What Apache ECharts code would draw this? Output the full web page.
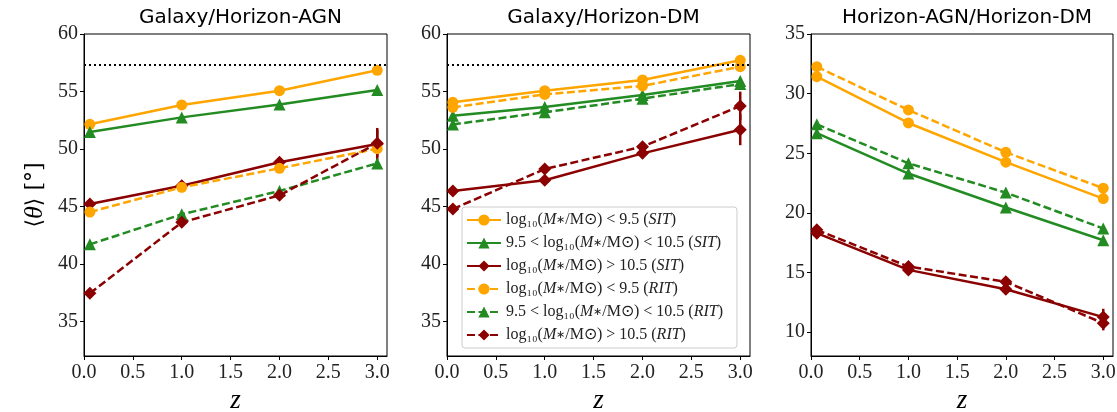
<!DOCTYPE html>
<html>
<head>
<meta charset="utf-8">
<script src="https://cdn.jsdelivr.net/npm/echarts@6/dist/echarts.min.js"></script>
<style>html,body{margin:0;padding:0;background:#fff;}#c{width:1117px;height:412px;}</style>
</head>
<body>
<div id="c"></div>
<script>
// ---- data ----
const zVals = [0.06, 1, 2, 3];
const panelTitles = ['Galaxy/Horizon-AGN', 'Galaxy/Horizon-DM', 'Horizon-AGN/Horizon-DM'];
const xTicks = [0, 0.5, 1, 1.5, 2, 2.5, 3];
const yTicksGal = [35, 40, 45, 50, 55, 60];
const yTicksHz = [10, 15, 20, 25, 30, 35];
const randomMean = 57.3;

// Galaxy / Horizon-AGN
const agnSitLow  = [52.15, 53.83, 55.07, 56.84];
const agnSitMid  = [51.48, 52.75, 53.86, 55.13];
const agnSitHigh = [45.22, 46.81, 48.84, 50.43];
const agnRitLow  = [44.52, 46.67, 48.32, 50.03];
const agnRitMid  = [41.71, 44.32, 46.35, 48.75];
const agnRitHigh = [37.45, 43.62, 45.97, 50.50];
const agnSitHighErr = [0.3, 0.3, 0.4, 1.4];
const agnRitHighErr = [0.4, 0.4, 0.4, 1.2];

// Galaxy / Horizon-DM
const dmSitLow  = [54.06, 55.07, 56.00, 57.71];
const dmSitMid  = [52.90, 53.65, 54.70, 55.91];
const dmSitHigh = [46.35, 47.28, 49.62, 51.68];
const dmRitLow  = [53.62, 54.75, 55.48, 57.16];
const dmRitMid  = [52.14, 53.19, 54.38, 55.65];
const dmRitHigh = [44.78, 48.26, 50.20, 53.74];
const dmSitHighErr = [0.3, 0.3, 0.4, 1.35];
const dmRitHighErr = [0.3, 0.4, 0.4, 1.25];

// Horizon-AGN / Horizon-DM
const hzSitLow  = [31.42, 27.54, 24.25, 21.20];
const hzSitMid  = [26.68, 23.30, 20.45, 17.71];
const hzSitHigh = [18.30, 15.22, 13.60, 11.26];
const hzRitLow  = [32.26, 28.63, 25.08, 22.07];
const hzRitMid  = [27.43, 24.16, 21.70, 18.69];
const hzRitHigh = [18.58, 15.50, 14.22, 10.75];
const hzSitHighErr = [0.2, 0.2, 0.3, 0.7];
const hzRitHighErr = [0.2, 0.2, 0.3, 0.6];

const seriesNames = [
  'low (SIT)', 'mid (SIT)', 'high (SIT)', 'low (RIT)', 'mid (RIT)', 'high (RIT)'
];
const legendRich = {
  'low (SIT)':  '{t|log₁₀(}{i|M}{s|∗}{t|/M⊙) < 9.5 (}{i|SIT}{t|)}',
  'mid (SIT)':  '{t|9.5 < log₁₀(}{i|M}{s|∗}{t|/M⊙) < 10.5 (}{i|SIT}{t|)}',
  'high (SIT)': '{t|log₁₀(}{i|M}{s|∗}{t|/M⊙) > 10.5 (}{i|SIT}{t|)}',
  'low (RIT)':  '{t|log₁₀(}{i|M}{s|∗}{t|/M⊙) < 9.5 (}{i|RIT}{t|)}',
  'mid (RIT)':  '{t|9.5 < log₁₀(}{i|M}{s|∗}{t|/M⊙) < 10.5 (}{i|RIT}{t|)}',
  'high (RIT)': '{t|log₁₀(}{i|M}{s|∗}{t|/M⊙) > 10.5 (}{i|RIT}{t|)}'
};

const panels = [
  { vals: [agnSitLow, agnSitMid, agnSitHigh, agnRitLow, agnRitMid, agnRitHigh], errs: {2: agnSitHighErr, 5: agnRitHighErr}, min: 32, max: 60, ticks: yTicksGal, ref: true },
  { vals: [dmSitLow, dmSitMid, dmSitHigh, dmRitLow, dmRitMid, dmRitHigh], errs: {2: dmSitHighErr, 5: dmRitHighErr}, min: 32, max: 60, ticks: yTicksGal, ref: true },
  { vals: [hzSitLow, hzSitMid, hzSitHigh, hzRitLow, hzRitMid, hzRitHigh], errs: {2: hzSitHighErr, 5: hzRitHighErr}, min: 8, max: 35, ticks: yTicksHz, ref: false }
];

// ---- styles ----
const colors = ['#FFA500', '#228B22', '#8B0000', '#FFA500', '#228B22', '#8B0000'];
const symbols = ['circle', 'triangle', 'diamond', 'circle', 'triangle', 'diamond'];
const symSizes = [11, 12, 13, 11, 12, 13];
const lineTypes = ['solid', 'solid', 'solid', [8, 3.5], [8, 3.5], [8, 3.5]];
const gridPos = [{left: 84, width: 303}, {left: 447, width: 303}, {left: 811, width: 302}];
const serif = 'Liberation Serif';

const grids = [], xAxes = [], yAxes = [], series = [], titles = [];
panels.forEach((p, pi) => {
  grids.push({ left: gridPos[pi].left, width: gridPos[pi].width, top: 34, height: 322,
    outerBoundsMode: 'none', containLabel: false,
    show: true, borderColor: '#000', borderWidth: 1, backgroundColor: 'transparent' });
  titles.push({ text: panelTitles[pi], left: gridPos[pi].left + gridPos[pi].width / 2, top: 3,
    textAlign: 'center',
    textStyle: { fontFamily: 'DejaVu Sans', fontWeight: 'normal', fontSize: 20, color: '#000' } });
  xAxes.push({ gridIndex: pi, type: 'value', min: 0, max: 3.1,
    name: 'z', nameLocation: 'middle', nameGap: 24,
    nameTextStyle: { fontFamily: serif, fontStyle: 'italic', fontSize: 27, color: '#000' },
    axisLine: { show: true, onZero: false, lineStyle: { color: '#000', width: 1 } },
    axisTick: { show: true, length: 4, customValues: xTicks, lineStyle: { color: '#000' } },
    axisLabel: { customValues: xTicks, formatter: v => v.toFixed(1), fontFamily: serif, fontSize: 20, color: '#222', margin: 7 },
    splitLine: { show: false } });
  yAxes.push({ gridIndex: pi, type: 'value', min: p.min, max: p.max,
    name: pi === 0 ? '{a|⟨}{b|θ}{a|⟩ [°]}' : '', nameLocation: 'middle', nameGap: 36, nameRotate: 90,
    nameTextStyle: { color: '#000', rich: {
      a: { fontFamily: 'DejaVu Serif', fontSize: 22, color: '#000' },
      b: { fontFamily: serif, fontStyle: 'italic', fontSize: 26, color: '#000' } } },
    axisLine: { show: true, onZero: false, lineStyle: { color: '#000', width: 1 } },
    axisTick: { show: true, length: 4, customValues: p.ticks, lineStyle: { color: '#000' } },
    axisLabel: { customValues: p.ticks, fontFamily: serif, fontSize: 20, color: '#222', margin: 6 },
    splitLine: { show: false } });

  p.vals.forEach((vals, gi) => {
    const s = {
      name: seriesNames[gi], type: 'line', xAxisIndex: pi, yAxisIndex: pi,
      data: zVals.map((z, i) => [z, vals[i]]),
      symbol: symbols[gi], symbolSize: symSizes[gi], showSymbol: true,
      itemStyle: { color: colors[gi] },
      lineStyle: { color: colors[gi], width: 2.5, type: lineTypes[gi] },
      z: 3, animation: false
    };
    series.push(s);
    if (p.errs[gi]) {
      const err = p.errs[gi];
      series.push({
        type: 'custom', xAxisIndex: pi, yAxisIndex: pi, silent: true, z: 2, animation: false,
        data: zVals.map((z, i) => [z, vals[i] - err[i], vals[i] + err[i]]),
        renderItem: (params, api) => {
          const a = api.coord([api.value(0), api.value(1)]);
          const b = api.coord([api.value(0), api.value(2)]);
          return { type: 'line', shape: { x1: a[0], y1: a[1], x2: b[0], y2: b[1] },
            style: { stroke: colors[gi], lineWidth: 2.5 } };
        }
      });
    }
  });
  if (p.ref) {
    series.push({
      type: 'line', xAxisIndex: pi, yAxisIndex: pi, data: [], silent: true, animation: false,
      markLine: { symbol: 'none', silent: true, label: { show: false },
        lineStyle: { color: '#000', type: [2, 3], width: 2.2 },
        data: [{ yAxis: randomMean }] }
    });
  }
});

const chart = echarts.init(document.getElementById('c'), null, { renderer: 'canvas' });
chart.setOption({
  animation: false,
  backgroundColor: '#fff',
  title: titles,
  grid: grids, xAxis: xAxes, yAxis: yAxes, series: series,
  legend: {
    data: seriesNames, orient: 'vertical', left: 462, top: 207,
    padding: [5, 14, 5, 4], itemGap: 7, itemWidth: 34, itemHeight: 14,
    backgroundColor: 'rgba(255,255,255,0.85)', borderColor: '#cccccc', borderWidth: 1, borderRadius: 3,
    selectedMode: false,
    formatter: name => legendRich[name],
    textStyle: { rich: {
      t: { fontFamily: serif, fontSize: 16, color: '#222', lineHeight: 18 },
      s: { fontFamily: serif, fontSize: 11, color: '#222', lineHeight: 18 },
      i: { fontFamily: serif, fontStyle: 'italic', fontSize: 16, color: '#222', lineHeight: 18 } } }
  }
});
</script>
</body>
</html>
